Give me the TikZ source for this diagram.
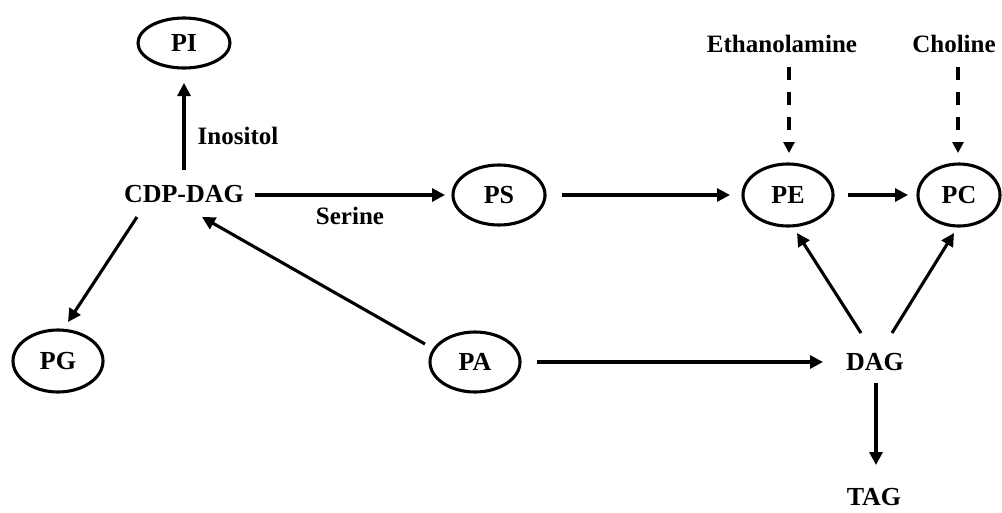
\documentclass[tikz,border=0pt]{standalone}
\usepackage{fontspec}
\setmainfont{Liberation Serif}
\usetikzlibrary{shapes.geometric,arrows.meta}
\begin{document}
\begin{tikzpicture}[x=1pt,y=-1pt,
  ell/.style={ellipse,draw,line width=3.1pt,minimum width=90pt,minimum height=60pt,inner sep=0pt,font=\fontsize{26}{26}\selectfont\bfseries},
  txt/.style={inner sep=0pt,font=\fontsize{26}{26}\selectfont\bfseries},
  lbl/.style={inner sep=0pt,font=\fontsize{25}{25}\selectfont\bfseries},
  arr/.style={line width=3.1pt,-{Triangle[length=13pt,width=13pt]}},
  darr/.style={line width=3.4pt,dash pattern=on 13pt off 12pt,-{Triangle[length=11pt,width=11pt]}}]
\useasboundingbox (0,0) rectangle (1002,512);
\node[ell,minimum height=50pt,minimum width=92pt] (pi) at (184,43) {PI};
\node[txt] (cdp) at (184,194) {CDP-DAG};
\node[ell,minimum width=92pt] (ps) at (499,195) {PS};
\node[ell,minimum height=62pt] (pe) at (788,195) {PE};
\node[ell,minimum width=82pt,minimum height=62pt] (pc) at (959,195) {PC};
\node[ell,minimum height=62pt] (pg) at (58,361) {PG};
\node[ell] (pa) at (475,362) {PA};
\node[txt] (dag) at (875,362) {DAG};
\node[txt] (tag) at (874,497) {TAG};
\node[lbl] (eth) at (782,44) {Ethanolamine};
\node[lbl] (cho) at (954,44) {Choline};
\node[lbl] (inos) at (238,136) {Inositol};
\node[lbl] (ser) at (350,216) {Serine};

\draw[arr] ([shift={(0,-24)}]cdp.center) -- ([shift={(0,40)}]pi.center);
\draw[arr] ([shift={(71,1)}]cdp.center) -- ([shift={(-54,0)}]ps.center);
\draw[arr] ([shift={(63,0)}]ps.center) -- ([shift={(-58,0)}]pe.center);
\draw[arr] ([shift={(60,0)}]pe.center) -- ([shift={(-51,0)}]pc.center);
\draw[arr] ([shift={(-47,23)}]cdp.center) -- ([shift={(10,-39)}]pg.center);
\draw[arr] ([shift={(-50,-18)}]pa.center) -- ([shift={(18,23)}]cdp.center);
\draw[arr] ([shift={(62,0)}]pa.center) -- ([shift={(-52,0)}]dag.center);
\draw[arr] ([shift={(-14,-29)}]dag.center) -- ([shift={(9,38)}]pe.center);
\draw[arr] ([shift={(17,-29)}]dag.center) -- ([shift={(-5,38)}]pc.center);
\draw[arr] ([shift={(1,21)}]dag.center) -- ([shift={(2,-32)}]tag.center);
\draw[darr] ([shift={(7,23)}]eth.center) -- ([shift={(1,-42)}]pe.center);
\draw[darr] ([shift={(4,23)}]cho.center) -- ([shift={(-1,-42)}]pc.center);
\end{tikzpicture}
\end{document}
